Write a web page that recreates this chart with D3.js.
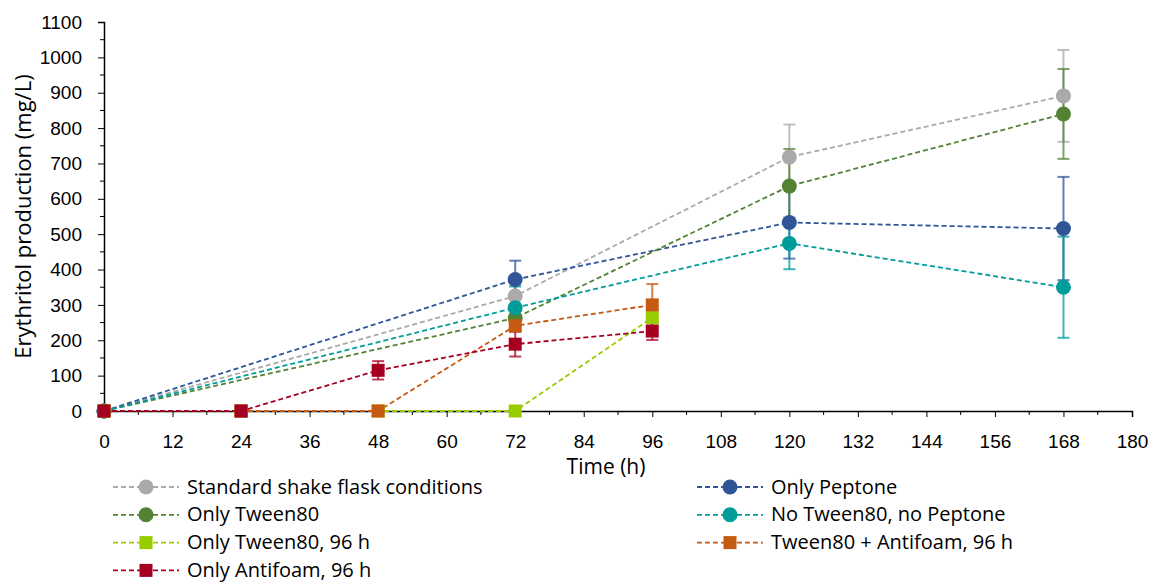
<!DOCTYPE html>
<html>
<head>
<meta charset="utf-8">
<script src="https://cdn.jsdelivr.net/npm/d3@7"></script>
<style>
  body { margin: 0; background: #fff; }
  svg { font-family: "Open Sans", Lato, sans-serif; }
</style>
</head>
<body>
<svg id="chart" width="1157" height="584"></svg>
<script>
// données
const seriesNames = ["Standard shake flask conditions", "Only Peptone", "Only Tween80",
  "No Tween80, no Peptone", "Only Tween80, 96 h", "Tween80 + Antifoam, 96 h", "Only Antifoam, 96 h"];
const timesLong = [0, 72, 120, 168];
const timesShort = [0, 24, 48, 72, 96];
const standardMean = [0, 325, 718, 891];
const standardErr = [0, 30, 92, 130];
const peptoneMean = [0, 372, 533, 516];
const peptoneErr = [0, 53, 102, 146];
const tweenMean = [0, 263, 636, 840];
const tweenErr = [0, 20, 105, 127];
const noTweenMean = [0, 292, 474, 350];
const noTweenErr = [0, 60, 73, 143];
const tween96Mean = [0, 0, 0, 0, 264];
const tween96Err = [0, 0, 0, 0, 10];
const tweenAntifoamMean = [0, 0, 0, 241, 300];
const tweenAntifoamErr = [0, 0, 0, 10, 59];
const antifoamMean = [0, 0, 115, 189, 226];
const antifoamErr = [0, 0, 26, 35, 25];
const xTicks = d3.range(0, 181, 12);
const yTicks = d3.range(0, 1101, 100);

let couleurs = ["#ABA9A9", "#2F5597", "#548235", "#009C99", "#99CC00", "#C55A11", "#A50021"];
let formes = ["circle", "circle", "circle", "circle", "square", "square", "square"];
let moyennes = [standardMean, peptoneMean, tweenMean, noTweenMean, tween96Mean, tweenAntifoamMean, antifoamMean];
let erreurs = [standardErr, peptoneErr, tweenErr, noTweenErr, tween96Err, tweenAntifoamErr, antifoamErr];
let temps = [timesLong, timesLong, timesLong, timesLong, timesShort, timesShort, timesShort];

let series = seriesNames.map((nom, i) => ({
  nom: nom,
  couleur: couleurs[i],
  forme: formes[i],
  points: temps[i].map((t, j) => ({ t: t, v: moyennes[i][j], e: erreurs[i][j] }))
}));

let svg = d3.select("#chart");
let x = d3.scaleLinear().domain([0, 180]).range([104, 1132]);
let y = d3.scaleLinear().domain([0, 1100]).range([411, 22]);

// axes
let axeX = svg.append("g").attr("transform", `translate(0,${y(0)})`)
  .call(d3.axisBottom(x).tickValues(xTicks).tickFormat(d3.format("d")).tickSize(6).tickPadding(18));
axeX.selectAll(".tick text").attr("font-size", "19px").attr("fill", "#000");
axeX.append("g").selectAll("line")
  .data(d3.range(6, 180, 12))
  .join("line")
  .attr("x1", d => x(d)).attr("x2", d => x(d))
  .attr("y1", 0).attr("y2", 4)
  .attr("stroke", "#000").attr("stroke-width", 1);

let axeY = svg.append("g").attr("transform", `translate(${x(0)},0)`)
  .call(d3.axisLeft(y).tickValues(yTicks).tickFormat(d3.format("d")).tickSize(6).tickPadding(16));
axeY.selectAll(".tick text").attr("font-size", "19px").attr("fill", "#000");
axeY.append("g").selectAll("line")
  .data(d3.range(50, 1100, 100))
  .join("line")
  .attr("x1", 0).attr("x2", -4)
  .attr("y1", d => y(d)).attr("y2", d => y(d))
  .attr("stroke", "#000").attr("stroke-width", 1);

svg.selectAll(".domain").attr("stroke", "#000").attr("stroke-width", 1.5);
svg.selectAll(".tick line").attr("stroke", "#000");

// titres des axes
svg.append("text")
  .attr("x", 606).attr("y", 474)
  .attr("text-anchor", "middle").attr("font-size", "21px")
  .text("Time (h)");
svg.append("text")
  .attr("transform", `translate(31,${y(550)}) rotate(-90)`)
  .attr("text-anchor", "middle").attr("font-size", "22px")
  .text("Erythritol production (mg/L)");

let ligne = d3.line().x(d => x(d.t)).y(d => y(d.v));

// barres d'erreur
let gErr = svg.append("g");
series.forEach(s => {
  let pts = s.points.filter(p => p.e > 0);
  let g = gErr.append("g").attr("stroke", s.couleur).attr("stroke-opacity", 0.75).attr("stroke-width", 2);
  g.selectAll(".vert").data(pts).join("line")
    .attr("x1", d => x(d.t)).attr("x2", d => x(d.t))
    .attr("y1", d => y(d.v - d.e)).attr("y2", d => y(d.v + d.e));
  g.selectAll(".haut").data(pts).join("line")
    .attr("x1", d => x(d.t) - 6).attr("x2", d => x(d.t) + 6)
    .attr("y1", d => y(d.v + d.e)).attr("y2", d => y(d.v + d.e));
  g.selectAll(".bas").data(pts).join("line")
    .attr("x1", d => x(d.t) - 6).attr("x2", d => x(d.t) + 6)
    .attr("y1", d => y(d.v - d.e)).attr("y2", d => y(d.v - d.e));
});

// lignes pointillées
svg.append("g").selectAll("path")
  .data(series)
  .join("path")
  .attr("d", s => ligne(s.points))
  .attr("fill", "none")
  .attr("stroke", s => s.couleur)
  .attr("stroke-width", 1.8)
  .attr("stroke-dasharray", "5,3");

// marqueurs
function dessinerMarqueur(g, forme, couleur, cx, cy) {
  if (forme === "circle") {
    g.append("circle").attr("cx", cx).attr("cy", cy).attr("r", 7.5).attr("fill", couleur);
  } else {
    g.append("rect").attr("x", cx - 6.5).attr("y", cy - 6.5)
      .attr("width", 13).attr("height", 13).attr("fill", couleur);
  }
}
let gMarq = svg.append("g");
series.forEach(s => {
  s.points.forEach(p => dessinerMarqueur(gMarq, s.forme, s.couleur, x(p.t), y(p.v)));
});

// légende
let ordreLegende = [0, 2, 4, 6, 1, 3, 5];
let legende = svg.append("g");
ordreLegende.forEach((idx, k) => {
  let col = k < 4 ? 0 : 1;
  let row = k < 4 ? k : k - 4;
  let lx = col === 0 ? 113 : 697;
  let ly = 487 + row * 27.8;
  let s = series[idx];
  let g = legende.append("g");
  g.append("line")
    .attr("x1", lx).attr("x2", lx + 66)
    .attr("y1", ly).attr("y2", ly)
    .attr("stroke", s.couleur).attr("stroke-width", 1.8)
    .attr("stroke-dasharray", "5,3");
  dessinerMarqueur(g, s.forme, s.couleur, lx + 33, ly);
  g.append("text")
    .attr("x", lx + 74).attr("y", ly)
    .attr("dy", "0.33em")
    .attr("font-size", "20px")
    .text(s.nom);
});
</script>
</body>
</html>
